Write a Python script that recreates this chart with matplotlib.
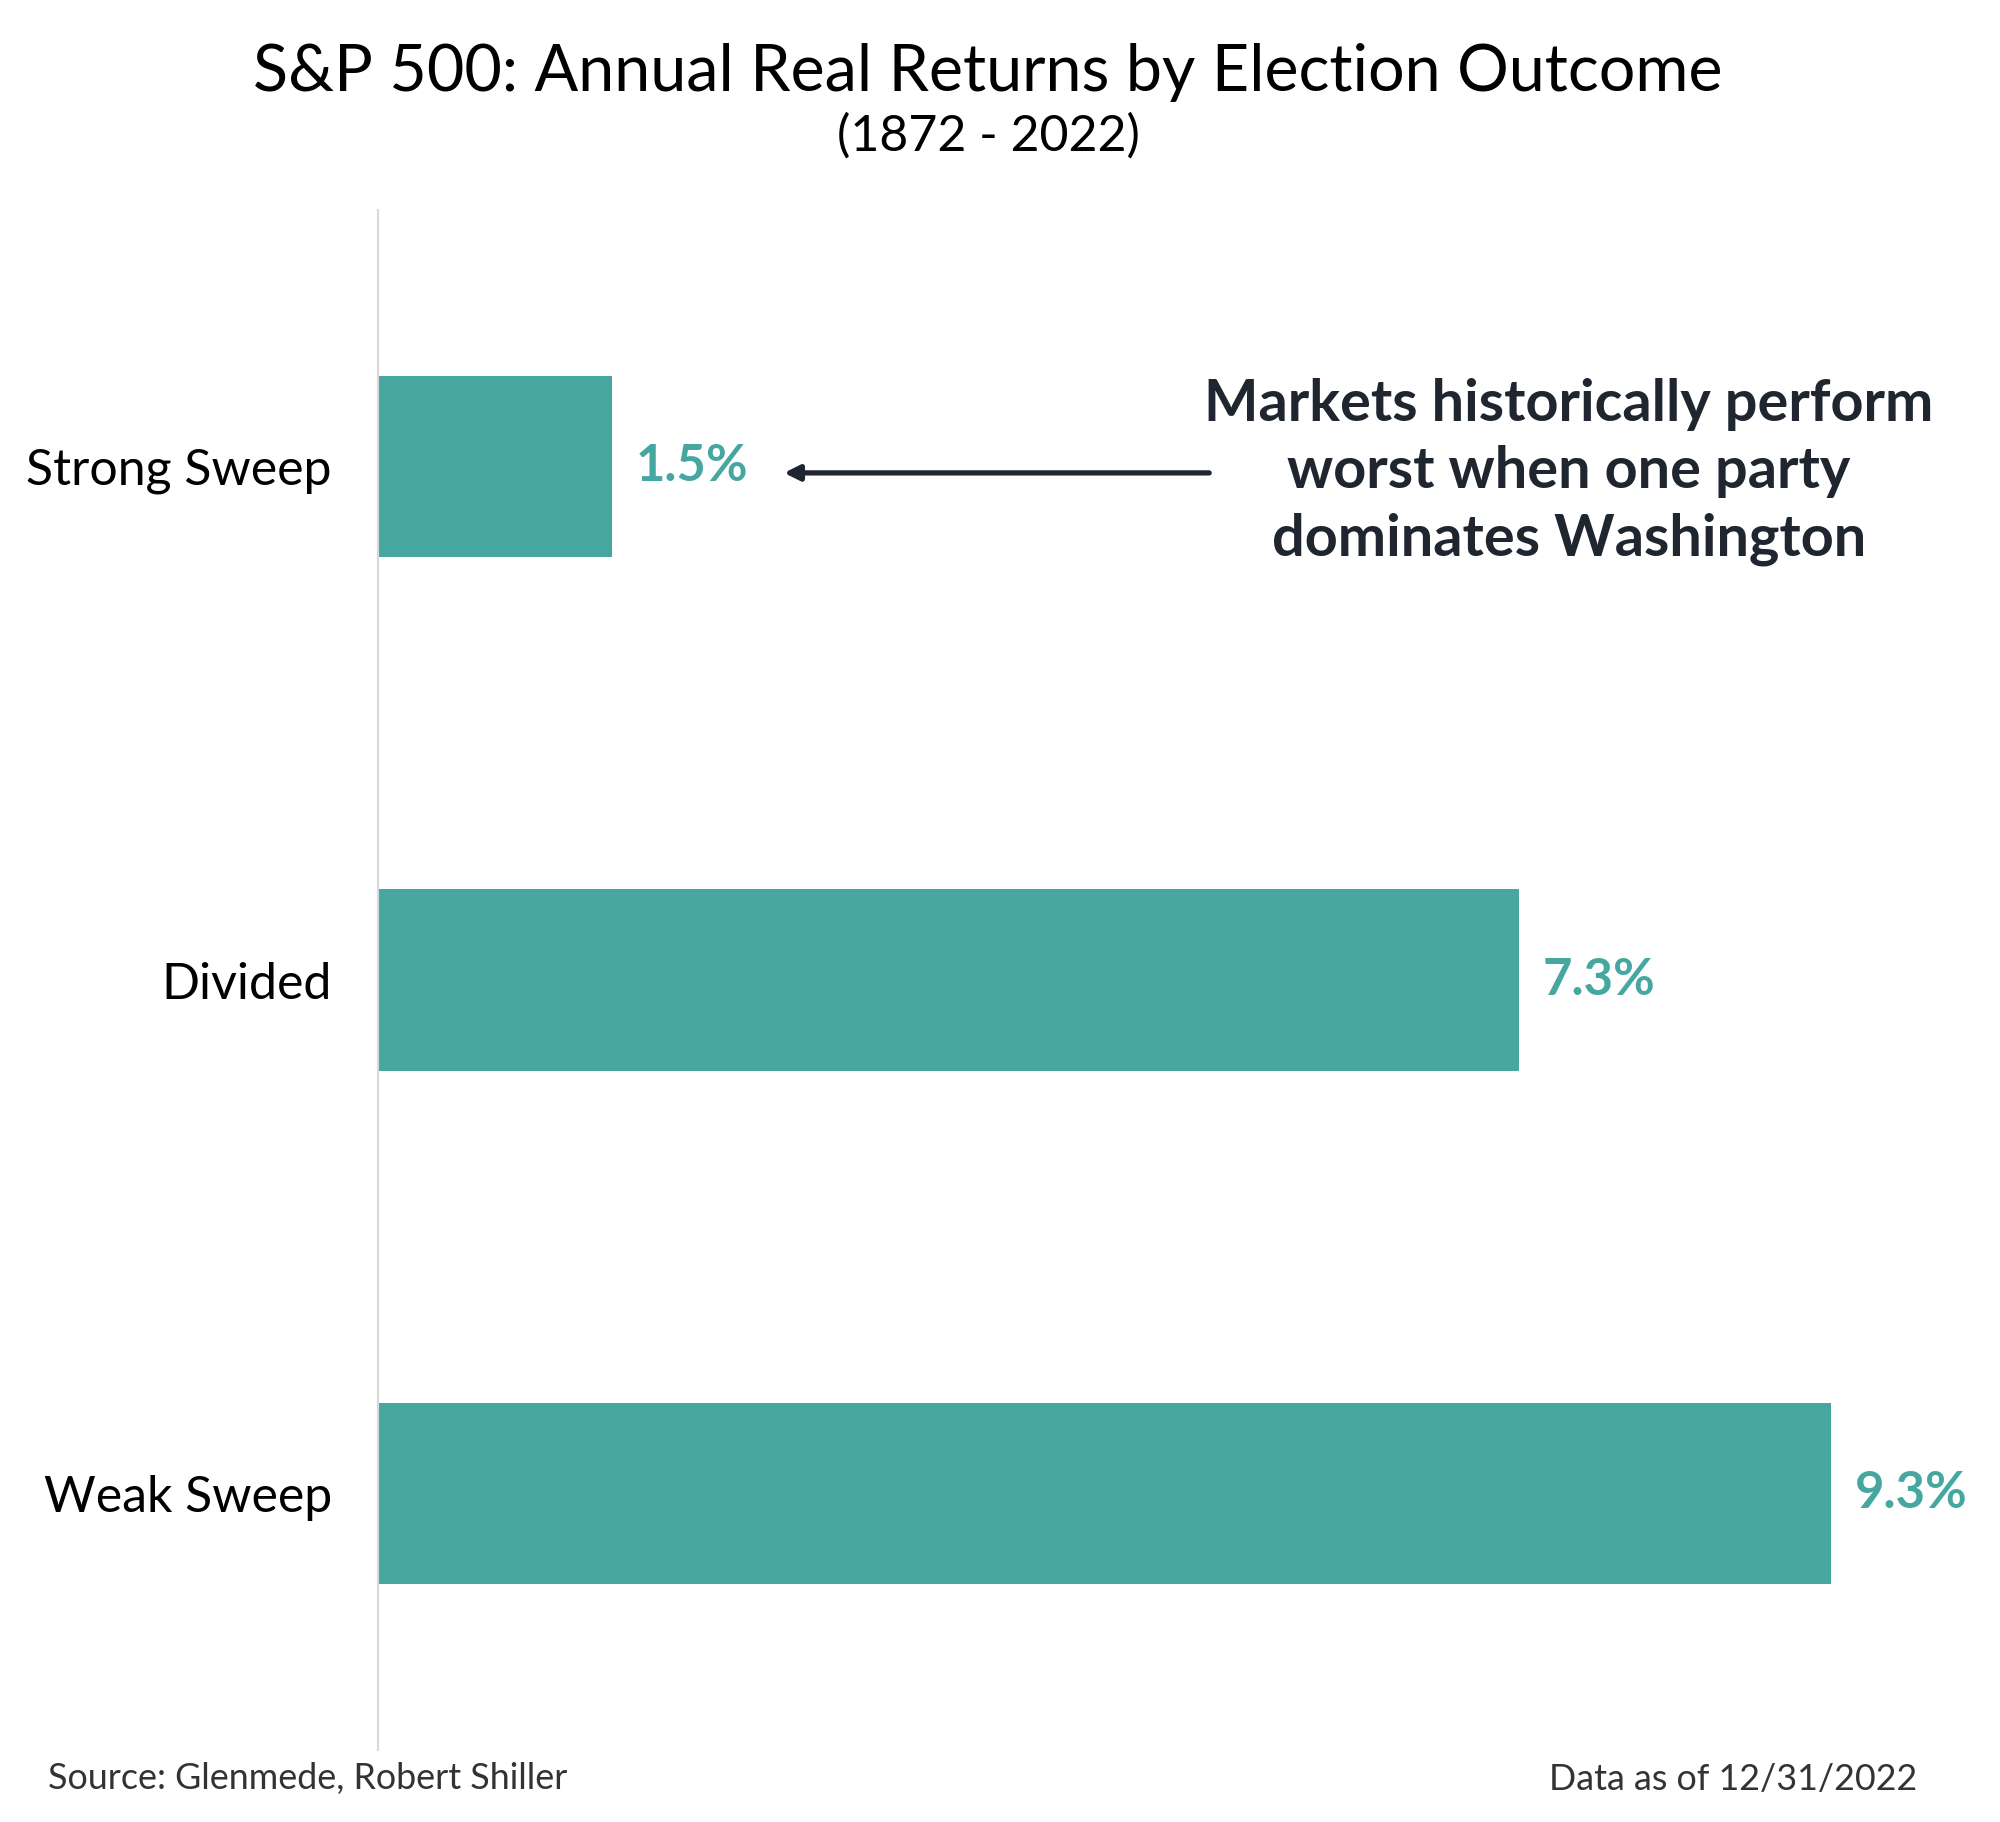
import matplotlib
matplotlib.use("Agg")
import matplotlib.pyplot as plt

categories = ["Strong Sweep", "Divided", "Weak Sweep"]
values = [1.5, 7.3, 9.3]
value_labels = ["1.5%", "7.3%", "9.3%"]

title = "S&P 500: Annual Real Returns by Election Outcome"
subtitle = "(1872 - 2022)"
annotation = "Markets historically perform\nworst when one party\ndominates Washington"
source = "Source: Glenmede, Robert Shiller"
asof = "Data as of 12/31/2022"

teal = "#46A7A1"
dark = "#1F2630"

plt.rcParams['font.family'] = ['Lato', 'DejaVu Sans']

fig = plt.figure(figsize=(20, 18.22), dpi=100)
ax = fig.add_axes([0.1888, 0.0395, 0.805, 0.8452])

ypos = list(range(len(categories)))
ax.barh(ypos, values, height=0.353, color=teal, edgecolor="none")
ax.set_ylim(2.5, -0.5)
ax.set_xlim(0, 10.3)

for y, v, lab in zip(ypos, values, value_labels):
    ax.annotate(lab, xy=(v, y), xytext=(17, 0), textcoords="offset points",
                ha="left", va="center", fontsize=36.5, fontweight="bold", color=teal)

ax.set_yticks(ypos)
ax.set_yticklabels(categories, fontsize=36, color="black")
ax.tick_params(axis="y", length=0, pad=33)
ax.set_xticks([])
for s in ["top", "right", "bottom"]:
    ax.spines[s].set_visible(False)
ax.spines["left"].set_color("#D9D9D9")
ax.spines["left"].set_linewidth(1.5)

# annotation arrow
ax.annotate("", xy=(2.6, 0.012), xytext=(5.32, 0.012),
            arrowprops=dict(arrowstyle="-|>,head_length=0.9,head_width=0.45",
                            color=dark, lw=3.8, shrinkA=0, shrinkB=0))
fig.text(0.7845, 1 - 472 / 1822, annotation, ha="center", va="center",
         fontsize=41.5, fontweight="bold", color=dark, linespacing=1.33)

fig.text(0.494, 1 - 73 / 1822, title, ha="center", va="center", fontsize=46.5, color="black")
fig.text(0.494, 1 - 136 / 1822, subtitle, ha="center", va="center", fontsize=36, color="black")

fig.text(48 / 2000, 1 - 1779 / 1822, source, ha="left", va="center", fontsize=25.8, color="#333333")
fig.text(1917 / 2000, 1 - 1779 / 1822, asof, ha="right", va="center", fontsize=25.8, color="#333333")

fig.savefig("out.png", dpi=100, facecolor="white")
